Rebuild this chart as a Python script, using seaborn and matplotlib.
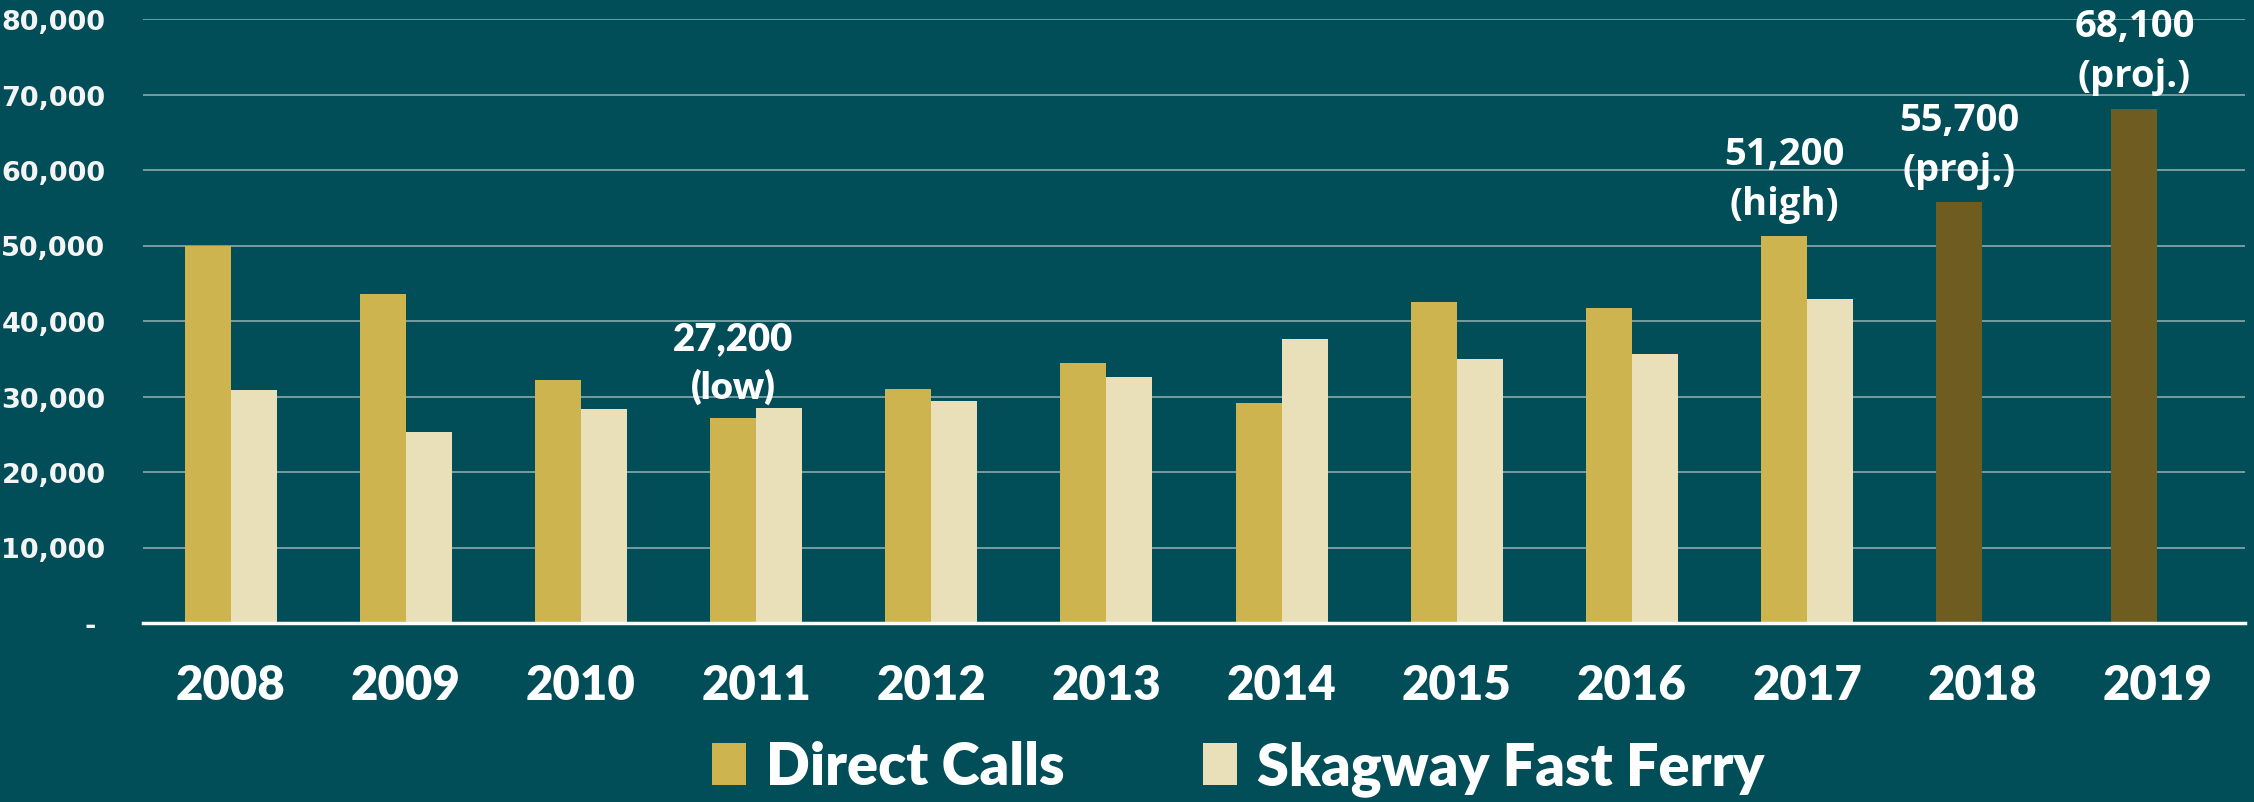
import matplotlib
matplotlib.use('Agg')
import matplotlib.pyplot as plt
import seaborn as sns
import pandas as pd
import numpy as np
from matplotlib.ticker import FuncFormatter, MultipleLocator

# ---- data ----
years = ['2008', '2009', '2010', '2011', '2012', '2013', '2014', '2015',
         '2016', '2017', '2018', '2019']
direct_calls = [50000, 43600, 32200, 27200, 31000, 34500, 29100, 42500,
                41700, 51200, 55700, 68100]
fast_ferry = [30800, 25300, 28300, 28500, 29400, 32600, 37600, 35000,
              35600, 42900, np.nan, np.nan]
series_names = ['Direct Calls', 'Skagway Fast Ferry']
projected_years = ['2018', '2019']
annot_years = ['2011', '2017', '2018', '2019']
annot_labels = ['27,200\n(low)', '51,200\n(high)', '55,700\n(proj.)', '68,100\n(proj.)']

# ---- style ----
BG = '#014E59'
GOLD = '#CDB44E'
CREAM = '#E9E0B9'
OLIVE = '#6E5C21'
GRID = '#7FA2A8'

df = pd.DataFrame({
    'year': years * 2,
    'series': [series_names[0]] * len(years) + [series_names[1]] * len(years),
    'value': direct_calls + fast_ferry,
})

sns.set_style('white', rc={'axes.facecolor': BG, 'figure.facecolor': BG})
plt.rcParams['font.family'] = ['Lato', 'DejaVu Sans']

fig = plt.figure(figsize=(22.54, 8.03), dpi=100)
ax = fig.add_axes([143 / 2254, 1 - 624 / 803, (2245 - 143) / 2254, (624 - 20) / 803])

sns.barplot(data=df, x='year', y='value', hue='series', order=years,
            hue_order=series_names, palette=[GOLD, CREAM], width=0.525,
            gap=0, saturation=1, ax=ax, linewidth=0, errorbar=None)

# recolor projected bars
for i, y in enumerate(years):
    if y in projected_years:
        ax.containers[0][i].set_facecolor(OLIVE)

ax.set_xlim(-0.5, len(years) - 0.5)
ax.set_ylim(0, 80000)
ax.yaxis.set_major_locator(MultipleLocator(10000))
ax.yaxis.set_major_formatter(FuncFormatter(lambda v, p: f'{v:,.0f}' if v > 0 else '- '))
ax.grid(axis='y', color=GRID, linewidth=1.3)
ax.set_axisbelow(True)
for s in ['top', 'right', 'left']:
    ax.spines[s].set_visible(False)
ax.spines['bottom'].set_color('white')
ax.spines['bottom'].set_linewidth(2.5)
ax.spines['bottom'].set_zorder(5)
ax.tick_params(axis='both', length=0)
ax.tick_params(axis='x', pad=29)
ax.tick_params(axis='y', pad=27)
ax.set_xlabel('')
ax.set_ylabel('')
for lab in ax.get_xticklabels():
    lab.set_fontfamily(['Lato', 'DejaVu Sans'])
    lab.set_fontweight('heavy')
    lab.set_fontsize(34)
    lab.set_color('white')
for lab in ax.get_yticklabels():
    lab.set_fontfamily(['DejaVu Sans'])
    lab.set_fontweight('bold')
    lab.set_fontsize(19.5)
    lab.set_color('#F4F4F4')

# annotations
for y, txt in zip(annot_years, annot_labels):
    i = years.index(y)
    bar = ax.containers[0][i]
    if y == '2011':
        fam, wt = ['Lato', 'DejaVu Sans'], 'heavy'
    else:
        fam, wt = ['Open Sans', 'DejaVu Sans'], 'bold'
    ax.annotate(txt, (bar.get_x() + bar.get_width() / 2, bar.get_height()),
                xytext=(0, 10), textcoords='offset points', ha='center', va='bottom',
                fontsize=27.5, fontweight=wt, color='white', family=fam,
                linespacing=1.4)

# legend
handles, labels = ax.get_legend_handles_labels()
if ax.get_legend() is not None:
    ax.get_legend().remove()
leg = fig.legend(handles, labels, loc='center', bbox_to_anchor=(1238 / 2254, 1 - 769 / 803),
                 ncol=2, frameon=False, handlelength=0.6, handleheight=0.72,
                 handletextpad=0.34, columnspacing=2.4,
                 prop={'family': ['Lato', 'DejaVu Sans'], 'weight': 'heavy', 'size': 41.5})
for t in leg.get_texts():
    t.set_color('white')

fig.savefig('out.png', dpi=100, facecolor=BG)
